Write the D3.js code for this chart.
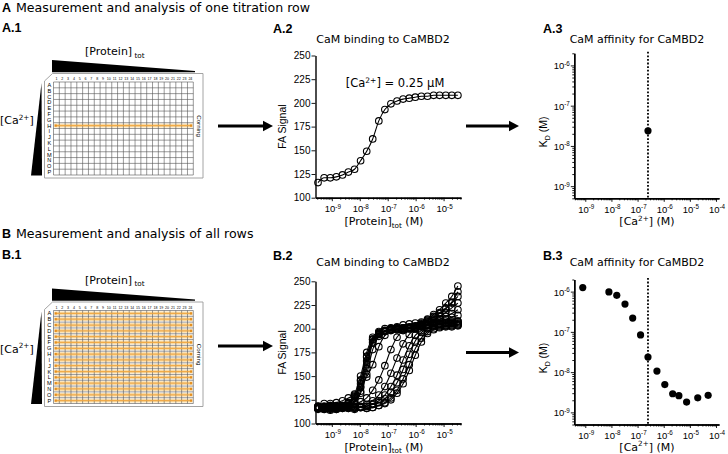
<!DOCTYPE html>
<html><head><meta charset="utf-8">
<script src="https://cdn.jsdelivr.net/npm/d3@7"></script>
<style>body{margin:0;background:#fff}svg{display:block}</style>
</head><body>
<svg id="c" width="728" height="454"></svg>
<script>
// ---------------- DATA ----------------
const proteinConc = [3.2e-10,5.3e-10,8.8e-10,1.45e-9,2.4e-9,3.9e-9,6.5e-9,1.07e-8,1.77e-8,2.9e-8,4.8e-8,7.9e-8,
  1.3e-7,2.15e-7,3.55e-7,5.9e-7,9.7e-7,1.6e-6,2.65e-6,4.4e-6,7.2e-6,1.2e-5,1.97e-5,3.25e-5];
// A.2: row H, [Ca2+] = 0.25 uM
const rowH = [116,121,121,122,124,127,130,139,149,162,181,193,199,202,204,205,206,207,207,208,208,208,208,208];
// B.2: all rows (low Ca -> high Ca)
const row01 = [117,116,118,117,116,117,118,117,116,117,119,121,125,132,142,156,172,186,195,199,202,203,203,204];
const row02 = [116,117,115,116,117,116,115,117,116,117,119,122,127,135,147,162,179,190,197,200,201,202,202,203];
const row03 = [118,117,118,119,117,118,117,118,118,120,122,126,133,143,157,173,187,196,200,203,204,204,205,205];
const row04 = [117,118,116,117,118,117,116,117,118,121,124,130,139,151,167,182,193,198,201,202,203,203,204,204];
const row05 = [116,117,116,115,117,116,117,117,120,124,130,139,153,169,184,194,200,202,204,204,205,205,206,206];
const row06 = [118,117,119,118,117,118,120,123,127,135,146,161,178,191,198,201,203,204,204,205,205,206,206,207];
const row07 = rowH;
const row08 = [117,116,118,117,118,119,122,132,152,178,192,198,200,201,201,201,202,202,203,204,205,206,207,208];
const row09 = [116,115,117,116,117,119,123,134,158,185,194,197,199,200,200,201,201,203,205,206,208,210,212,214];
const row10 = [115,116,114,115,116,118,124,138,162,186,194,197,198,199,199,200,200,203,205,207,210,213,216,220];
const row11 = [117,118,116,117,118,121,127,142,166,188,195,198,199,200,200,200,201,204,207,210,213,217,222,227];
const row12 = [116,115,117,116,118,121,128,146,171,189,195,197,199,199,199,200,200,204,208,212,216,221,227,234];
const row13 = [118,117,119,118,119,122,129,145,170,189,196,198,200,200,200,201,201,206,210,215,220,227,234,245];
const row14 = [117,116,117,118,119,122,131,150,175,191,197,200,201,201,201,202,202,205,209,213,217,222,228,239];
const allRows = [row01,row02,row03,row04,row05,row06,row07,row08,row09,row10,row11,row12,row13,row14];
// A.3 / B.3
const caRowH = 2.5e-7, kdRowH = 2.37e-8;
const caConc = [8e-10,8e-9,1.6e-8,3.3e-8,6.5e-8,1.3e-7,2.5e-7,5.5e-7,1.1e-6,2.2e-6,3.8e-6,7.5e-6,2e-5,5e-5];
const kdValues = [1.26e-6,9.8e-7,8.1e-7,4.9e-7,2.2e-7,8.4e-8,2.37e-8,1.06e-8,4.9e-9,2.9e-9,2.6e-9,1.8e-9,2.3e-9,2.66e-9];
// ticks / labels
const signalTicks = [100,125,150,175,200,225,250];
const proteinMajor = [1e-9,1e-8,1e-7,1e-6,1e-5];
const caMajor = [1e-9,1e-8,1e-7,1e-6,1e-5,1e-4];
const kdMajor = [1e-9,1e-8,1e-7,1e-6];
const plateCols = d3.range(1,25).map(String);
const plateRows = "ABCDEFGHIJKLMNOP".split("");

// ---------------- DRAW ----------------
const svg = d3.select('#c');
const SANS = "'DejaVu Sans', Verdana, sans-serif";
const ARIAL = "'Liberation Sans', Arial, sans-serif";

function txt(x,y,s,opt={}){
  return svg.append('text').attr('x',x).attr('y',y).text(s)
    .attr('font-family',opt.ff||SANS).attr('font-size',opt.fs||11)
    .attr('font-weight',opt.fw||'normal').attr('text-anchor',opt.anchor||'start').attr('fill','#000');
}
function richText(parent,x,y,parts,opt={}){
  const t = parent.append('text').attr('x',x).attr('y',y)
    .attr('font-family',opt.ff||SANS).attr('font-size',opt.fs||11)
    .attr('text-anchor',opt.anchor||'start').attr('fill','#000');
  if(opt.rotate!=null) t.attr('transform',`rotate(${opt.rotate},${x},${y})`);
  const fs = opt.fs||11; let cur = 0;
  parts.forEach(([s,k])=>{
    let target = k==='sup'? -fs*0.38 : k==='sub'? fs*0.25 : 0;
    const ts = t.append('tspan').text(s).attr('dy', target-cur);
    if(k!=='n') ts.attr('font-size', fs*0.66);
    cur = target;
  });
  return t;
}

// Headers
txt(2,11.5,'A',{ff:ARIAL,fw:'bold',fs:12.5});
txt(16,11.5,'Measurement and analysis of one titration row',{fs:12.6});
txt(2,31.5,'A.1',{ff:ARIAL,fw:'bold',fs:12.5});
txt(2,238,'B',{ff:ARIAL,fw:'bold',fs:12.5});
txt(16,238,'Measurement and analysis of all rows',{fs:12.6});
txt(2,259,'B.1',{ff:ARIAL,fw:'bold',fs:12.5});

// ---- Plates ----
function drawPlate(dy, hlRows){
  const g = svg.append('g').attr('transform',`translate(0,${dy})`);
  richText(g,85,55,[['[Protein]','n'],[' tot','sub']],{fs:11});
  g.append('path').attr('d','M52,60 L195,71 L195,72.3 L52,72.3 Z').attr('fill','#000');
  g.append('path').attr('d','M41.5,83 L42,175.5 L31,175.5 Z').attr('fill','#000');
  richText(g,0,124,[['[Ca','n'],['2+','sup'],[']','n']],{fs:11});
  g.append('path').attr('d','M44.5,81 L52.5,73.5 L203,73.5 L203,178 L44.5,178 Z')
    .attr('fill','#fff').attr('stroke','#9a9a9a').attr('stroke-width',0.9);
  const x0=53.5,x1=193.3,y0=82,y1=175;
  const cx = d3.scaleBand().domain(plateCols).range([x0,x1]);
  const ry = d3.scaleBand().domain(plateRows).range([y0,y1]);
  hlRows.forEach(r=>{
    const yc = ry(r)+ry.bandwidth()/2;
    g.append('rect').attr('x',x0+0.8).attr('y',yc-1.9).attr('width',x1-x0-1.6).attr('height',3.8)
      .attr('fill','#fbdca6');
  });
  const gl = g.append('g').attr('stroke','#555').attr('stroke-width',0.6);
  d3.range(25).forEach(i=>{const x=x0+i*cx.step(); gl.append('line').attr('x1',x).attr('x2',x).attr('y1',y0).attr('y2',y1);});
  d3.range(17).forEach(i=>{const y=y0+i*ry.step(); gl.append('line').attr('x1',x0).attr('x2',x1).attr('y1',y).attr('y2',y);});
  hlRows.forEach(r=>{
    const yc = ry(r)+ry.bandwidth()/2;
    g.append('line').attr('x1',x0+1.5).attr('x2',x1-1.5).attr('y1',yc).attr('y2',yc)
      .attr('stroke','#f0a640').attr('stroke-width',1.2).attr('opacity',0.9);
    [x0+2.2,x1-2.2].forEach(x=>g.append('rect').attr('x',x-1.1).attr('y',yc-1.1).attr('width',2.2).attr('height',2.2).attr('fill','#e58f1f'));
  });
  plateCols.forEach(c=>g.append('text').attr('x',cx(c)+cx.bandwidth()/2).attr('y',80.3).text(c)
    .attr('font-family',ARIAL).attr('font-size',3.6).attr('text-anchor','middle'));
  plateRows.forEach(r=>g.append('text').attr('x',49.3).attr('y',ry(r)+ry.bandwidth()/2+2).text(r)
    .attr('font-family',ARIAL).attr('font-size',5.6).attr('text-anchor','middle'));
  g.append('text').attr('transform','translate(196.5,126) rotate(90)').text('Corning')
    .attr('font-family',ARIAL).attr('font-size',6.2).attr('text-anchor','middle');
}
drawPlate(0,['H']);
drawPlate(228.5,plateRows);

// ---- Arrows ----
function arrow(xa,xb,y){
  svg.append('line').attr('x1',xa).attr('x2',xb-8).attr('y1',y).attr('y2',y).attr('stroke','#000').attr('stroke-width',3);
  svg.append('path').attr('d',`M${xb},${y} L${xb-10},${y-5.3} L${xb-10},${y+5.3} Z`).attr('fill','#000');
}
arrow(218,273,126); arrow(466,519,126);
arrow(218,273,346); arrow(466,519,352.5);

// ---- Axis helpers ----
function minorsOf(scale){
  const [a,b]=scale.domain(); const out=[];
  for(let e=Math.floor(Math.log10(a)); e<=Math.ceil(Math.log10(b)); e++)
    for(let m=2;m<=9;m++){const v=m*Math.pow(10,e); if(v>=a&&v<=b) out.push(v);}
  return out;
}
function styleAxis(sel){
  sel.select('.domain').attr('stroke-width',1.4);
  sel.selectAll('.tick line').attr('stroke-width',0.9);
}
function logX(scale,y,majors){
  const g1 = svg.append('g').attr('transform',`translate(0,${y})`)
    .call(d3.axisBottom(scale).tickValues(minorsOf(scale)).tickSize(2).tickFormat('').tickSizeOuter(0));
  styleAxis(g1);
  const g2 = svg.append('g').attr('transform',`translate(0,${y})`)
    .call(d3.axisBottom(scale).tickValues(majors).tickSize(3.5).tickFormat('').tickSizeOuter(0));
  styleAxis(g2);
  majors.forEach(v=>richText(svg,scale(v)+1,y+14.5,[['10','n'],[String(Math.round(Math.log10(v))),'sup']],{ff:ARIAL,fs:9.5,anchor:'middle'}));
}
function logY(scale,x,majors){
  const g1 = svg.append('g').attr('transform',`translate(${x},0)`)
    .call(d3.axisLeft(scale).tickValues(minorsOf(scale)).tickSize(2).tickFormat('').tickSizeOuter(0));
  styleAxis(g1);
  const g2 = svg.append('g').attr('transform',`translate(${x},0)`)
    .call(d3.axisLeft(scale).tickValues(majors).tickSize(3.5).tickFormat('').tickSizeOuter(0));
  styleAxis(g2);
  majors.forEach(v=>richText(svg,x-4.5,scale(v)+4,[['10','n'],[String(Math.round(Math.log10(v))),'sup']],{ff:ARIAL,fs:9.5,anchor:'end'}));
}
function linY(scale,x){
  const g = svg.append('g').attr('transform',`translate(${x},0)`)
    .call(d3.axisLeft(scale).tickValues(signalTicks).tickSize(4).tickFormat('').tickSizeOuter(0));
  styleAxis(g);
  signalTicks.forEach(v=>txt(x-5,scale(v)+3.6,String(v),{ff:ARIAL,fs:10,anchor:'end'}));
}

// ---- Binding panels (A.2 / B.2) ----
const xP = d3.scaleLog().domain([2.6e-10,4.2e-5]).range([315.5,461]);
function bindingPanel(yScale,rows,lab,labY,titleY,xlabY,extra){
  txt(273,labY,lab,{ff:ARIAL,fw:'bold',fs:12.5});
  txt(383,titleY,'CaM binding to CaMBD2',{fs:11,anchor:'middle'});
  const r = yScale.range();
  richText(svg,286,(r[0]+r[1])/2,[['FA Signal','n']],{ff:ARIAL,fs:10.5,anchor:'middle',rotate:-90});
  richText(svg,384,xlabY,[['[Protein]','n'],['tot','sub'],[' (M)','n']],{fs:11,anchor:'middle'});
  const line = d3.line().x((d,i)=>xP(proteinConc[i])).y(d=>yScale(d)).curve(d3.curveMonotoneX);
  rows.forEach(row=>{
    svg.append('path').attr('d',line(row)).attr('fill','none').attr('stroke','#000').attr('stroke-width',1.1);
    svg.append('g').selectAll('circle').data(row).join('circle')
      .attr('cx',(d,i)=>xP(proteinConc[i])).attr('cy',d=>yScale(d)).attr('r',3.3)
      .attr('fill','none').attr('stroke','#000').attr('stroke-width',1.1);
  });
  linY(yScale,315.5);
  logX(xP,r[0],proteinMajor);
  if(extra) extra();
}
const ySigA = d3.scaleLinear().domain([100,250]).range([197.7,55.5]);
const ySigB = d3.scaleLinear().domain([100,250]).range([423.5,281.3]);
bindingPanel(ySigA,[rowH],'A.2',32.5,43,225,()=>{
  richText(svg,395,87,[['[Ca','n'],['2+','sup'],['] = 0.25 µM','n']],{fs:11.5,anchor:'middle'});
});
bindingPanel(ySigB,allRows,'B.2',259.5,266,450.5);

// ---- Affinity panels (A.3 / B.3) ----
const xCa = d3.scaleLog().domain([3.8e-10,1.3e-4]).range([574.3,719]);
function affinityPanel(yScale,ca,kd,lab,labY,titleY,xlabY){
  txt(543,labY,lab,{ff:ARIAL,fw:'bold',fs:12.5});
  txt(637,titleY,'CaM affinity for CaMBD2',{fs:11,anchor:'middle'});
  const r = yScale.range();
  richText(svg,547,(r[0]+r[1])/2+6,[['K','n'],['D','sub'],[' (M)','n']],{ff:ARIAL,fs:10.5,anchor:'middle',rotate:-90});
  richText(svg,647,xlabY,[['[Ca','n'],['2+','sup'],['] (M)','n']],{fs:11,anchor:'middle'});
  svg.append('line').attr('x1',xCa(caRowH)).attr('x2',xCa(caRowH)).attr('y1',r[1]-1.5).attr('y2',r[0])
    .attr('stroke','#000').attr('stroke-width',1.8).attr('stroke-dasharray','1.8,1.8');
  svg.append('g').selectAll('circle').data(kd).join('circle')
    .attr('cx',(d,i)=>xCa(ca[i])).attr('cy',d=>yScale(d)).attr('r',3.6).attr('fill','#000');
  logY(yScale,574.3,kdMajor);
  logX(xCa,r[0],caMajor);
}
const yKdA = d3.scaleLog().domain([5e-10,2e-6]).range([198.3,53.3]);
const yKdB = d3.scaleLog().domain([5e-10,2e-6]).range([424.5,279.5]);
affinityPanel(yKdA,[caRowH],[kdRowH],'A.3',32.5,43,225);
affinityPanel(yKdB,caConc,kdValues,'B.3',259.5,266,450.5);
</script>
</body></html>
